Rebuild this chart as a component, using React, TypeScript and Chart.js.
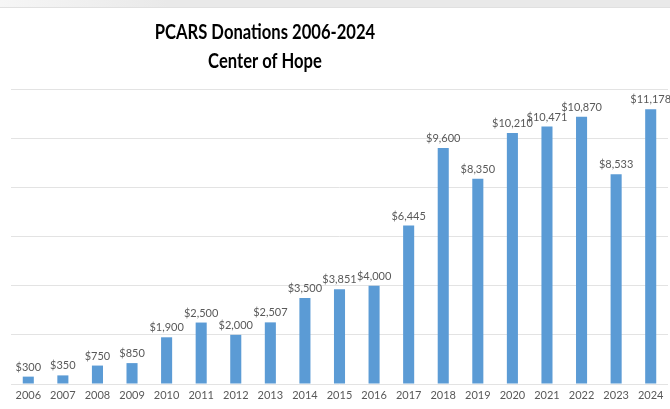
import React, { useEffect, useRef } from "react";
import { Chart, registerables } from "chart.js";

Chart.register(...registerables);

const years = ["2006","2007","2008","2009","2010","2011","2012","2013","2014","2015","2016","2017","2018","2019","2020","2021","2022","2023","2024"];
const donations = [300, 350, 750, 850, 1900, 2500, 2000, 2507, 3500, 3851, 4000, 6445, 9600, 8350, 10210, 10471, 10870, 8533, 11178];
const titleLines = ["PCARS Donations 2006-2024", "Center of Hope"];
const yMax = 12000;
const yStep = 2000;

const fmt = (v: number) => "$" + v.toLocaleString("en-US");

const labelPlugin = {
  id: "barLabels",
  afterDatasetsDraw(chart: any) {
    const ctx = chart.ctx;
    const meta = chart.getDatasetMeta(0);
    ctx.save();
    ctx.font = "11px 'Lato', 'Liberation Sans', sans-serif";
    ctx.fillStyle = "#595959";
    ctx.textAlign = "center";
    ctx.textBaseline = "bottom";
    meta.data.forEach((bar: any, i: number) => {
      ctx.fillText(fmt(donations[i]), bar.x, bar.y - 4);
    });
    ctx.restore();
  },
};

const titlePlugin = {
  id: "customTitle",
  afterDraw(chart: any) {
    const ctx = chart.ctx;
    ctx.save();
    ctx.font = "bold 20px 'Lato', 'Liberation Sans', sans-serif";
    ctx.fillStyle = "#000000";
    ctx.textAlign = "center";
    ctx.textBaseline = "middle";
    const sx = 0.83;
    ctx.translate(265, 0);
    ctx.scale(sx, 1);
    ctx.fillText(titleLines[0], 0, 33);
    ctx.fillText(titleLines[1], 0, 62);
    ctx.restore();
  },
};

export default function App() {
  const ref = useRef<HTMLCanvasElement | null>(null);
  useEffect(() => {
    document.body.style.margin = "0";
    if (!ref.current) return;
    const chart = new Chart(ref.current, {
      type: "bar",
      data: {
        labels: years,
        datasets: [
          {
            data: donations,
            backgroundColor: "#5B9BD5",
            barPercentage: 0.64,
            categoryPercentage: 0.5,
          },
        ],
      },
      options: {
        animation: false,
        responsive: false,
        layout: { padding: { top: 89, left: 11, right: 2, bottom: 5 } },
        plugins: {
          legend: { display: false },
          tooltip: { enabled: false },
          title: { display: false },
        },
        scales: {
          x: {
            grid: { display: false, drawTicks: false },
            border: { display: false },
            afterFit: (scale: any) => {
              scale.height = 20;
            },
            ticks: {
              color: "#595959",
              font: { family: "'Lato', 'Liberation Sans', sans-serif", size: 11 },
              maxRotation: 0,
              autoSkip: false,
              padding: 5,
            },
          },
          y: {
            min: 0,
            max: yMax,
            border: { display: false },
            grid: { color: "#e3e3e3", drawTicks: false, lineWidth: 1 },
            ticks: { display: false, stepSize: yStep },
          },
        },
      },
      plugins: [labelPlugin, titlePlugin],
    });
    return () => chart.destroy();
  }, []);
  return (
    <div style={{ position: "relative", width: 670, height: 409, background: "#fff" }}>
      <div
        style={{
          position: "absolute",
          left: 0,
          top: 0,
          width: 670,
          height: 7,
          background: "linear-gradient(to right, #f6f6f6, #e9e9e9 25%, #e9e9e9)",
          borderBottom: "1px solid #e0e0e0",
        }}
      />
      <canvas ref={ref} width={670} height={409} style={{ display: "block" }} />
    </div>
  );
}
